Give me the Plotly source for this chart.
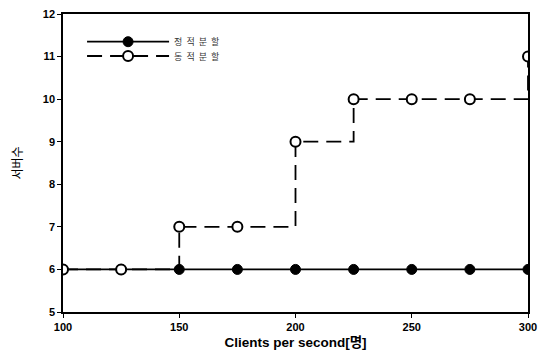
import plotly.graph_objects as go

x_vals = [100, 125, 150, 175, 200, 225, 250, 275, 300]
static_vals = [6, 6, 6, 6, 6, 6, 6, 6, 6]
dynamic_vals = [6, 6, 7, 7, 9, 10, 10, 10, 11]
x_ticks = [100, 150, 200, 250, 300]
y_ticks = [5, 6, 7, 8, 9, 10, 11, 12]
series_names = ["정  적  분  할", "동  적  분  할"]

fig = go.Figure()
fig.add_trace(go.Scatter(
    x=x_vals, y=static_vals, name=series_names[0], mode="lines+markers",
    line=dict(color="black", width=1.8, shape="hv"),
    marker=dict(symbol="circle", size=10, color="black", line=dict(color="black", width=1)),
    legend="legend",
))
fig.add_trace(go.Scatter(
    x=x_vals, y=dynamic_vals, name=series_names[1], mode="lines+markers",
    line=dict(color="black", width=1.8, shape="hv", dash="15px,8px"),
    marker=dict(symbol="circle", size=10, color="white", line=dict(color="black", width=2)),
    legend="legend2",
))

leg_common = dict(xanchor="left", yanchor="middle", bgcolor="rgba(0,0,0,0)",
                  font=dict(size=9, family="Noto Sans CJK KR", color="#333333"),
                  itemwidth=82, tracegroupgap=0)

fig.update_layout(
    width=539, height=351,
    margin=dict(l=55, r=19, t=6, b=47),
    paper_bgcolor="white", plot_bgcolor="white",
    font=dict(family="Liberation Sans, Arial, Noto Sans CJK KR", size=11, color="black"),
    showlegend=True,
    legend=dict(x=0.041, y=0.907, **leg_common),
    legend2=dict(x=0.041, y=0.859, **leg_common),
)
fig.update_xaxes(
    range=[100, 300], tickvals=x_ticks, showgrid=False, zeroline=False,
    showline=True, linecolor="black", linewidth=1.5, mirror=True,
    ticks="outside", ticklen=4, tickcolor="black", automargin=False,
    ticklabeloverflow="allow",
    tickfont=dict(size=11, family="Liberation Sans", weight="bold"),
    title=dict(text="Clients per second[명]", font=dict(size=13.5, weight="bold"), standoff=6),
)
fig.update_yaxes(
    range=[5, 12], tickvals=y_ticks, showgrid=False, zeroline=False,
    showline=True, linecolor="black", linewidth=1.5, mirror=True,
    ticks="outside", ticklen=4, tickcolor="black", automargin=False,
    ticklabeloverflow="allow",
    tickfont=dict(size=11, family="Liberation Sans", weight="bold"),
    title=dict(text="서버수", font=dict(size=12, family="Noto Sans CJK KR", color="black"), standoff=20),
)
fig.write_html("out.html")
